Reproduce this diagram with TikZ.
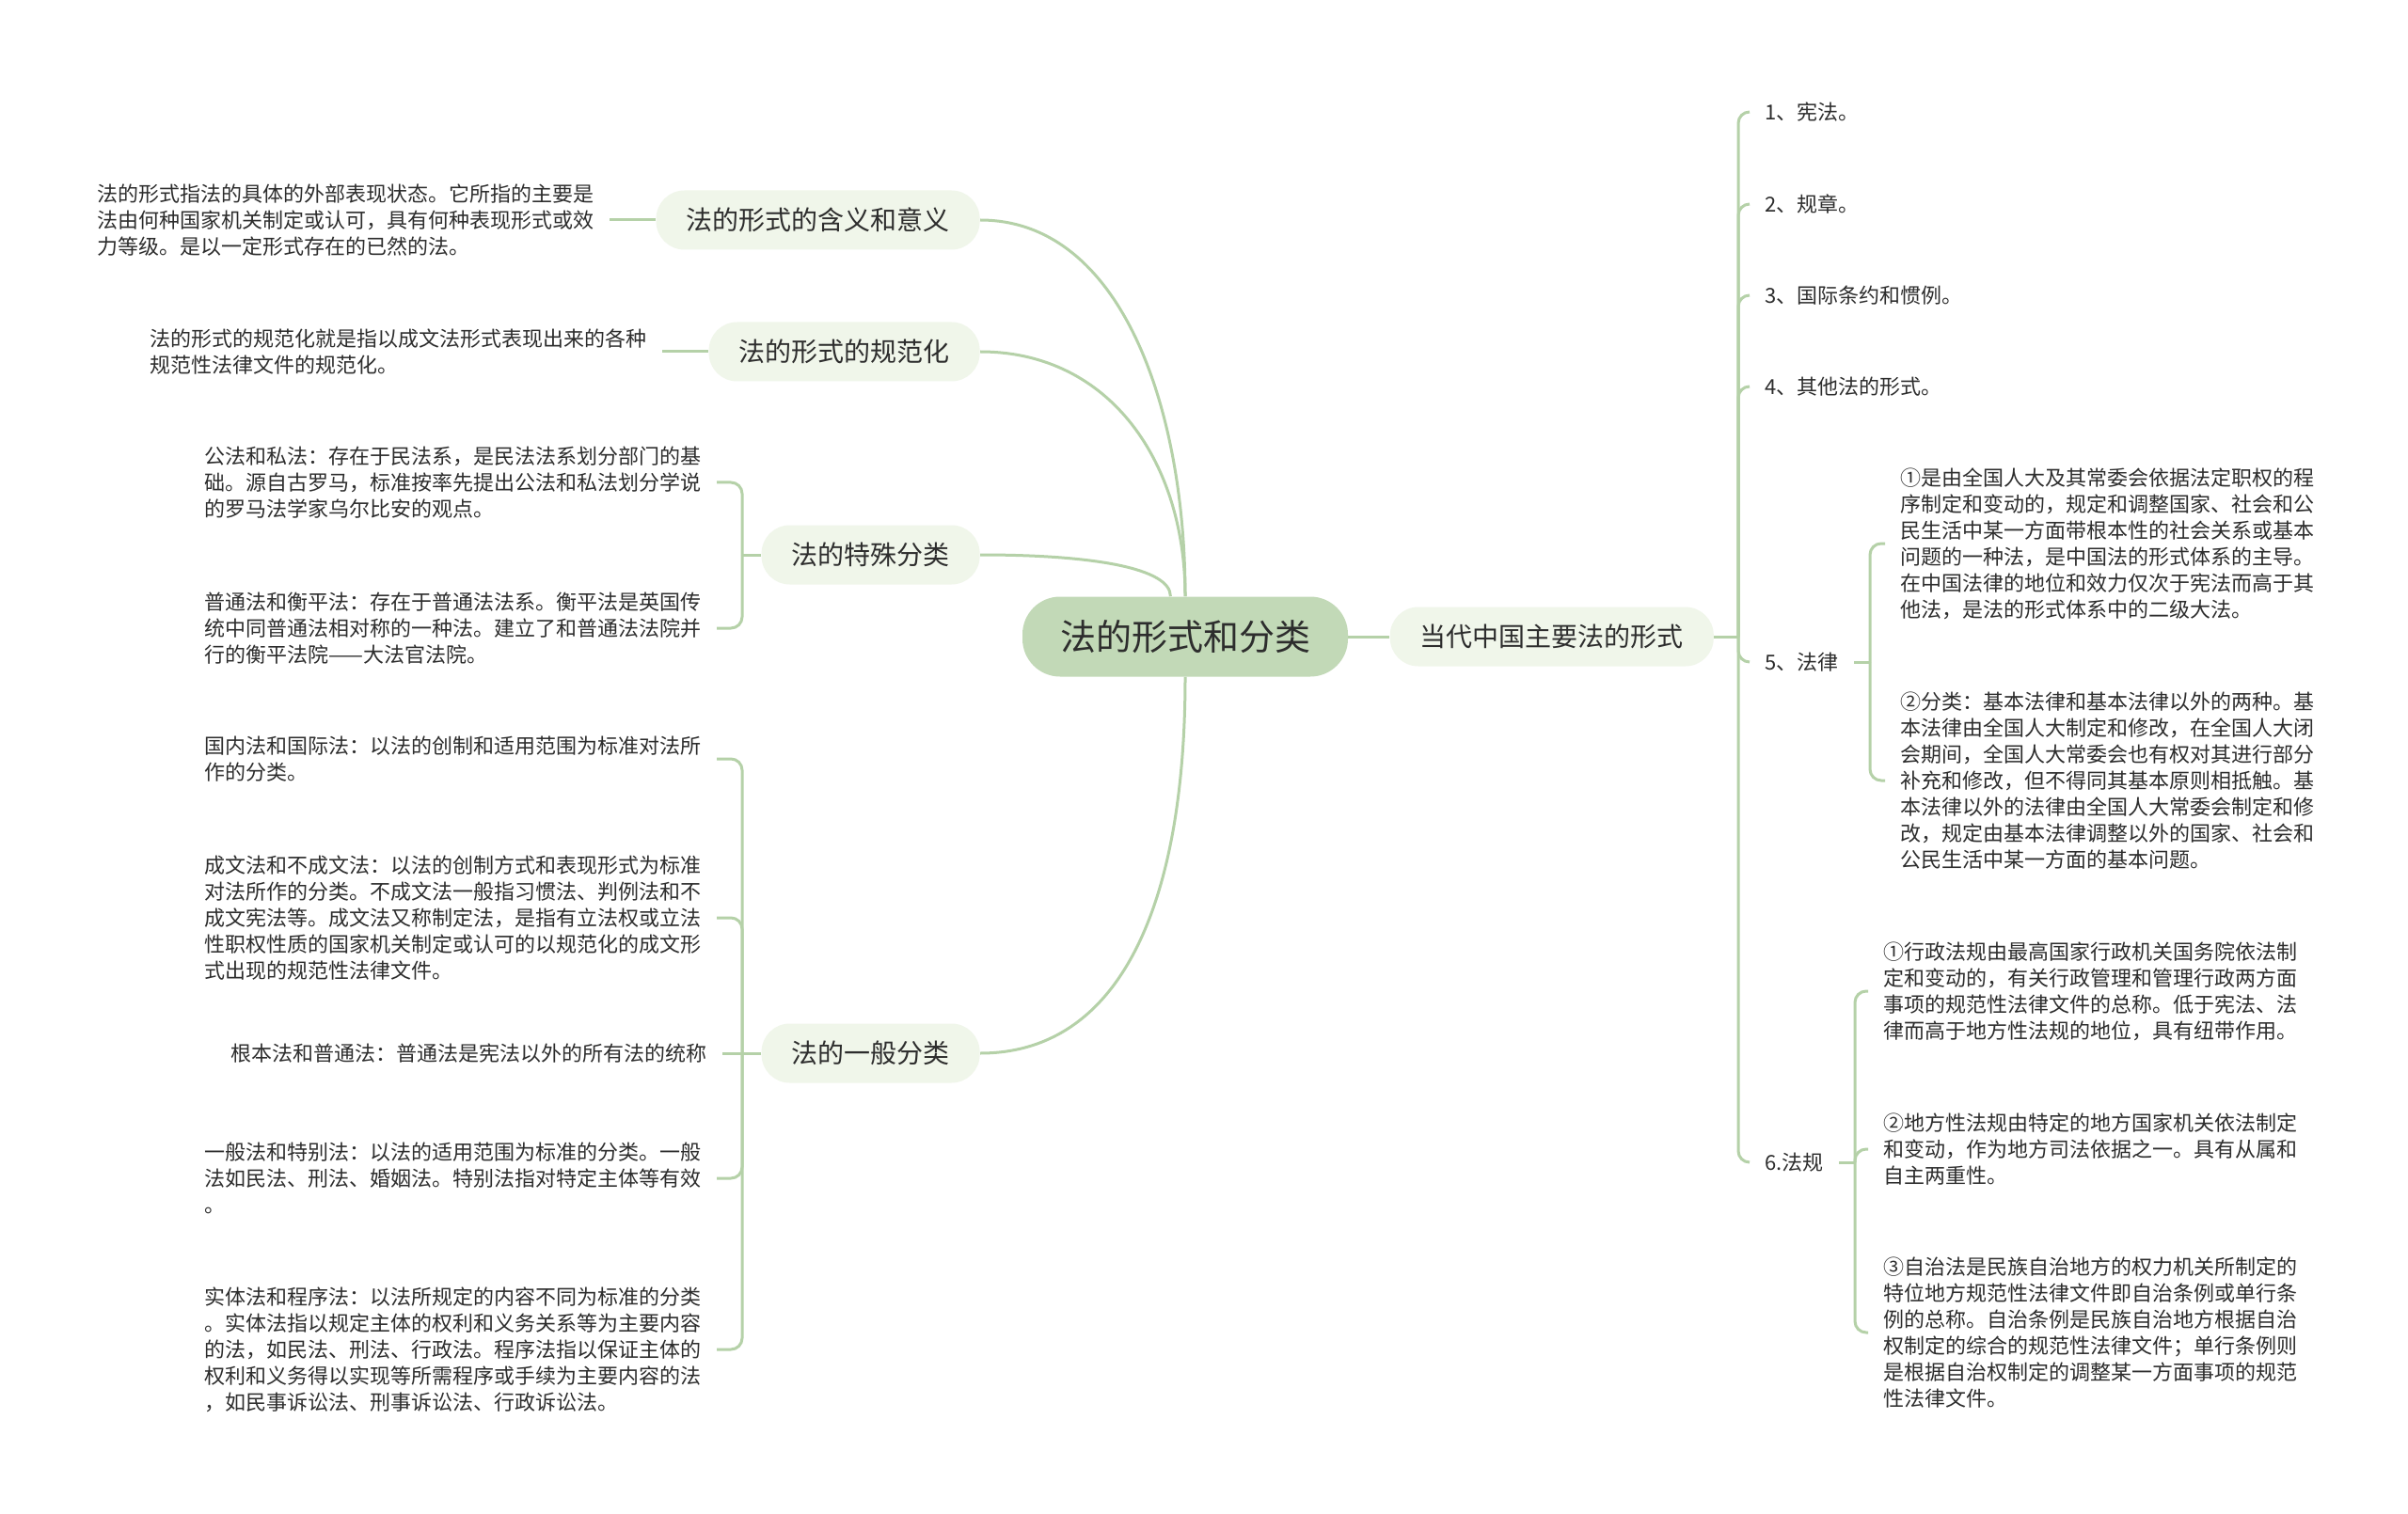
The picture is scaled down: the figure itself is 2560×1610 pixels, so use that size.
\documentclass[tikz,border=0pt]{standalone}
\usepackage{fontspec}
\setmainfont{Noto Sans CJK SC}
\usetikzlibrary{positioning,calc}
\definecolor{rootgreen}{RGB}{194,217,183}
\definecolor{topicgreen}{RGB}{240,246,234}
\definecolor{linkgreen}{RGB}{181,209,168}
\definecolor{inkgray}{RGB}{45,45,45}

\begin{document}
\begin{tikzpicture}[
    x=0.5pt, y=-0.5pt,
    rootbox/.style={fill=rootgreen, rounded corners=20pt, minimum height=42.5pt, inner xsep=20pt, font=\fontsize{19}{23}\selectfont, text=inkgray},
    topic/.style={fill=topicgreen, rounded corners=15pt, minimum height=31.5pt, inner xsep=16pt, font=\fontsize{14}{17}\selectfont, text=inkgray},
    leafnote/.style={align=left, inner xsep=8pt, inner ysep=0pt, font=\fontsize{11}{14}\selectfont, text=inkgray},
    conn/.style={draw=linkgreen, line width=1.5pt},
    brace/.style={conn, rounded corners=6pt}
]
\fill[white] (0,0) rectangle (2560,1610);
\useasboundingbox (0,0) rectangle (2560,1610);

% centre and first level
\node[rootbox] (root) at (1260,677) {法的形式和分类};
\node[topic, anchor=east] (mean) at (1042,234) {法的形式的含义和意义};
\node[topic, anchor=east] (norm) at (1042,374) {法的形式的规范化};
\node[topic, anchor=east] (spec) at (1042,590) {法的特殊分类};
\node[topic, anchor=east] (gen) at (1042,1120) {法的一般分类};
\node[topic, right=22pt of root] (cur) {当代中国主要法的形式};

% left leaves
\node[leafnote, left=24.5pt of mean] (meantxt) {法的形式指法的具体的外部表现状态。它所指的主要是\\法由何种国家机关制定或认可，具有何种表现形式或效\\力等级。是以一定形式存在的已然的法。};
\node[leafnote, left=24.5pt of norm] (normtxt) {法的形式的规范化就是指以成文法形式表现出来的各种\\规范性法律文件的规范化。};

\node[leafnote, anchor=east] (spub) at (762,513) {公法和私法：存在于民法系，是民法法系划分部门的基\\础。源自古罗马，标准按率先提出公法和私法划分学说\\的罗马法学家乌尔比安的观点。};
\node[leafnote, anchor=east] (seq) at (762,668) {普通法和衡平法：存在于普通法法系。衡平法是英国传\\统中同普通法相对称的一种法。建立了和普通法法院并\\行的衡平法院——大法官法院。};

\node[leafnote, anchor=east] (gdom) at (762,807) {国内法和国际法：以法的创制和适用范围为标准对法所\\作的分类。};
\node[leafnote, anchor=east] (gwrit) at (762,976) {成文法和不成文法：以法的创制方式和表现形式为标准\\对法所作的分类。不成文法一般指习惯法、判例法和不\\成文宪法等。成文法又称制定法，是指有立法权或立法\\性职权性质的国家机关制定或认可的以规范化的成文形\\式出现的规范性法律文件。};
\node[leafnote, anchor=east] (gbase) at (768,1120) {根本法和普通法：普通法是宪法以外的所有法的统称};
\node[leafnote, anchor=east] (gspec) at (762,1253) {一般法和特别法：以法的适用范围为标准的分类。一般\\法如民法、刑法、婚姻法。特别法指对特定主体等有效\\。};
\node[leafnote, anchor=east] (gproc) at (762,1435) {实体法和程序法：以法所规定的内容不同为标准的分类\\。实体法指以规定主体的权利和义务关系等为主要内容\\的法，如民法、刑法、行政法。程序法指以保证主体的\\权利和义务得以实现等所需程序或手续为主要内容的法\\，如民事诉讼法、刑事诉讼法、行政诉讼法。};

% right leaves
\node[leafnote, anchor=west] (f1) at (1860,119) {1、宪法。};
\node[leafnote, anchor=west] (f2) at (1860,217) {2、规章。};
\node[leafnote, anchor=west] (f3) at (1860,314) {3、国际条约和惯例。};
\node[leafnote, anchor=west] (f4) at (1860,411) {4、其他法的形式。};
\node[leafnote, anchor=west] (f5) at (1860,704) {5、法律};
\node[leafnote, anchor=west] (f6) at (1860,1236) {6.法规};

\node[leafnote, anchor=west] (law1) at (2004,578) {①是由全国人大及其常委会依据法定职权的程\\序制定和变动的，规定和调整国家、社会和公\\民生活中某一方面带根本性的社会关系或基本\\问题的一种法，是中国法的形式体系的主导。\\在中国法律的地位和效力仅次于宪法而高于其\\他法，是法的形式体系中的二级大法。};
\node[leafnote, anchor=west] (law2) at (2004,830) {②分类：基本法律和基本法律以外的两种。基\\本法律由全国人大制定和修改，在全国人大闭\\会期间，全国人大常委会也有权对其进行部分\\补充和修改，但不得同其基本原则相抵触。基\\本法律以外的法律由全国人大常委会制定和修\\改，规定由基本法律调整以外的国家、社会和\\公民生活中某一方面的基本问题。};

\node[leafnote, anchor=west] (reg1) at (1986,1054) {①行政法规由最高国家行政机关国务院依法制\\定和变动的，有关行政管理和管理行政两方面\\事项的规范性法律文件的总称。低于宪法、法\\律而高于地方性法规的地位，具有纽带作用。};
\node[leafnote, anchor=west] (reg2) at (1986,1222) {②地方性法规由特定的地方国家机关依法制定\\和变动，作为地方司法依据之一。具有从属和\\自主两重性。};
\node[leafnote, anchor=west] (reg3) at (1986,1417) {③自治法是民族自治地方的权力机关所制定的\\特位地方规范性法律文件即自治条例或单行条\\例的总称。自治条例是民族自治地方根据自治\\权制定的综合的规范性法律文件；单行条例则\\是根据自治权制定的调整某一方面事项的规范\\性法律文件。};

% junctions
\coordinate (jspec) at (789,590);
\coordinate (jgen) at (789,1120);
\coordinate (jcur) at (1848,677);
\coordinate (jlaw) at (1988,704);
\coordinate (jreg) at (1972,1236);

% root to first level
\draw[conn] (root.north) .. controls +(0,-200) and +(150,0) .. (mean.east);
\draw[conn] (root.north) .. controls +(0,-140) and +(140,0) .. (norm.east);
\draw[conn] (root.110) .. controls +(0,-30) and +(120,0) .. (spec.east);
\draw[conn] (root.south) .. controls +(0,240) and +(150,0) .. (gen.east);
\draw[conn] (root.east) -- (cur.west);

% left brackets
\draw[conn] (meantxt.east) -- (mean.west);
\draw[conn] (normtxt.east) -- (norm.west);
\draw[conn] (spec.west) -- (jspec);
\draw[brace] (jspec) |- (spub.east);
\draw[brace] (jspec) |- (seq.east);
\draw[conn] (gen.west) -- (jgen);
\draw[brace] (jgen) |- (gdom.east);
\draw[brace] (jgen) |- (gwrit.east);
\draw[conn] (jgen) -- (gbase.east);
\draw[brace] (jgen) |- (gspec.east);
\draw[brace] (jgen) |- (gproc.east);

% right brackets
\draw[conn] (cur.east) -- (jcur);
\foreach \f in {f1,f2,f3,f4,f5,f6}
  \draw[brace] (jcur) |- (\f.west);
\draw[conn] (f5.east) -- (jlaw);
\draw[brace] (jlaw) |- (law1.west);
\draw[brace] (jlaw) |- (law2.west);
\draw[conn] (f6.east) -- (jreg);
\foreach \r in {reg1,reg2,reg3}
  \draw[brace] (jreg) |- (\r.west);
\end{tikzpicture}
\end{document}
